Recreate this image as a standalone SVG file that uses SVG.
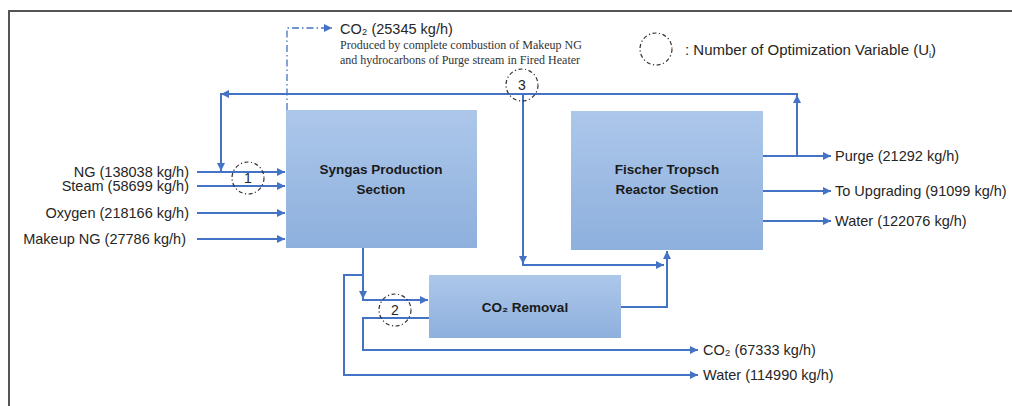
<svg xmlns="http://www.w3.org/2000/svg" width="1012" height="406" viewBox="0 0 1012 406">
<style>
.lbl{font-family:"Liberation Sans",Arial,sans-serif;font-size:14.5px;fill:#262626}
.box{font-family:"Liberation Sans",Arial,sans-serif;font-size:13.5px;font-weight:bold;fill:#1a1a1a}
.num{font-family:"Liberation Sans",Arial,sans-serif;font-size:14px;fill:#262626}
.note{font-family:"Liberation Serif","Times New Roman",serif;font-size:12px;fill:#333}
.ln{fill:none;stroke:#4472C4;stroke-width:2}
.dd{fill:none;stroke:#4472C4;stroke-width:1.3;stroke-dasharray:7 3 1.5 3}
.uc{fill:none;stroke:#333;stroke-width:1.2;stroke-dasharray:4 2.5 1.2 2.5}
</style>
<defs>
<linearGradient id="g" x1="0" y1="0" x2="0" y2="1">
<stop offset="0" stop-color="#adc7ea"/>
<stop offset="1" stop-color="#8db0dd"/>
</linearGradient>
<marker id="a" viewBox="0 0 10 10" refX="10" refY="5" markerWidth="9" markerHeight="8" markerUnits="userSpaceOnUse" orient="auto">
<path d="M0,0 L10,5 L0,10 z" fill="#4472C4"/>
</marker>
</defs>
<rect x="0" y="0" width="1012" height="406" fill="#fff"/>
<path d="M9,420 V11 H1020" fill="none" stroke="#555" stroke-width="2"/>

<g id="syngas">
<rect x="286" y="110" width="191" height="138" fill="url(#g)"/>
<text class="box" x="381" y="174" text-anchor="middle">Syngas Production</text>
<text class="box" x="381" y="194" text-anchor="middle">Section</text>
</g>
<g id="ft">
<rect x="571" y="111" width="192" height="139" fill="url(#g)"/>
<text class="box" x="667" y="174" text-anchor="middle">Fischer Tropsch</text>
<text class="box" x="667" y="194" text-anchor="middle">Reactor Section</text>
</g>
<g id="co2removal">
<rect x="429" y="275" width="192" height="63" fill="url(#g)"/>
<text class="box" x="525" y="312" text-anchor="middle">CO₂ Removal</text>
</g>

<g id="connectors">
<path class="ln" d="M197,172 H285" marker-end="url(#a)"/>
<path class="ln" d="M197,186 H285" marker-end="url(#a)"/>
<path class="ln" d="M197,213 H285" marker-end="url(#a)"/>
<path class="ln" d="M197,239 H285" marker-end="url(#a)"/>
<path class="ln" d="M763,156 H831" marker-end="url(#a)"/>
<path class="ln" d="M763,191 H831" marker-end="url(#a)"/>
<path class="ln" d="M763,221 H831" marker-end="url(#a)"/>
<path class="ln" d="M797,156 V95" marker-end="url(#a)"/>
<path class="ln" d="M798,94 H221" marker-end="url(#a)"/>
<path class="ln" d="M221,93 V171" marker-end="url(#a)"/>
<path class="ln" d="M523,94 V264" marker-end="url(#a)"/>
<path class="ln" d="M522,265 H664" marker-end="url(#a)"/>
<path class="ln" d="M621,307 H667 V251" marker-end="url(#a)"/>
<path class="ln" d="M363,248 V299" marker-end="url(#a)"/>
<path class="ln" d="M362,300 H428" marker-end="url(#a)"/>
<path class="ln" d="M363,275 H344 V375 H698" marker-end="url(#a)"/>
<path class="ln" d="M429,318 H363 V350 H698" marker-end="url(#a)"/>
<path class="dd" d="M287,110 V28 H332" marker-end="url(#a)"/>
</g>

<g id="u1">
<circle class="uc" cx="248" cy="178" r="16"/>
<text class="num" x="248" y="183" text-anchor="middle">1</text>
</g>
<g id="u2">
<circle class="uc" cx="395" cy="310" r="16"/>
<text class="num" x="395" y="315" text-anchor="middle">2</text>
</g>
<g id="u3">
<circle class="uc" cx="522" cy="85" r="16"/>
<text class="num" x="522" y="90" text-anchor="middle">3</text>
</g>
<g id="legend">
<circle class="uc" cx="656" cy="49" r="16"/>
<text class="lbl" x="685" y="55" style="font-size:15px">:  Number of Optimization Variable (U<tspan font-size="9" dy="3">i</tspan><tspan dy="-3">)</tspan></text>
</g>

<g id="labels">
<text class="lbl" x="189" y="177" text-anchor="end">NG (138038 kg/h)</text>
<text class="lbl" x="189" y="191" text-anchor="end">Steam (58699 kg/h)</text>
<text class="lbl" x="189" y="218" text-anchor="end">Oxygen (218166 kg/h)</text>
<text class="lbl" x="186" y="244" text-anchor="end">Makeup NG (27786 kg/h)</text>
<text class="lbl" x="835" y="161">Purge (21292 kg/h)</text>
<text class="lbl" x="835" y="196">To Upgrading (91099 kg/h)</text>
<text class="lbl" x="835" y="226">Water (122076 kg/h)</text>
<text class="lbl" x="703" y="355">CO₂ (67333 kg/h)</text>
<text class="lbl" x="703" y="380">Water (114990 kg/h)</text>
<text class="lbl" x="340" y="34">CO₂ (25345 kg/h)</text>
<text class="note" x="340" y="49">Produced by complete combustion of Makeup NG</text>
<text class="note" x="340" y="64">and hydrocarbons of Purge stream in Fired Heater</text>
</g>
</svg>
